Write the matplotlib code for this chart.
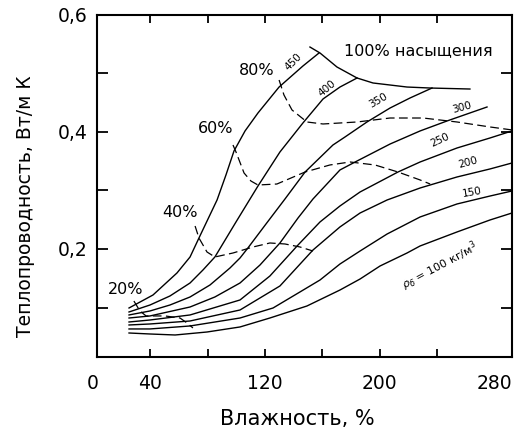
import matplotlib
matplotlib.use("Agg")
import matplotlib.pyplot as plt
from matplotlib.ticker import FixedLocator, FixedFormatter

plt.rcParams['font.family'] = ['DejaVu Sans']

# ---- data ----
x450 = [25.3, 42.0, 58.7, 67.8, 74.0, 86.6, 92.8, 98.4, 106.1, 115.1, 129.8, 146.4, 157.6]
y450 = [0.0992, 0.1214, 0.1590, 0.1863, 0.2187, 0.2836, 0.3263, 0.3673, 0.4015, 0.4322, 0.4765, 0.5124, 0.5346]

x400 = [25.3, 39.9, 53.8, 67.8, 76.8, 85.1, 99.8, 115.1, 130.4, 146.4, 160.4, 172.2, 184.1]
y400 = [0.0924, 0.1043, 0.1197, 0.1419, 0.1641, 0.1863, 0.2461, 0.3075, 0.3656, 0.4151, 0.4561, 0.4765, 0.4919]

x350 = [25.3, 39.9, 53.8, 67.8, 81.7, 95.6, 102.6, 108.1, 120.7, 133.9, 147.9, 167.3, 175.7, 191.0, 207.1, 221.0, 236.3]
y350 = [0.0873, 0.0941, 0.1043, 0.1180, 0.1385, 0.1675, 0.1846, 0.2017, 0.2427, 0.2853, 0.3314, 0.3775, 0.3912, 0.4168, 0.4407, 0.4578, 0.4748]

x300 = [25.3, 39.9, 67.8, 85.1, 102.6, 116.5, 130.4, 143.0, 153.4, 172.2, 184.1, 207.1, 228.0, 246.7, 262.7, 274.6]
y300 = [0.0821, 0.0856, 0.1009, 0.1180, 0.1419, 0.1726, 0.2102, 0.2529, 0.2853, 0.3349, 0.3502, 0.3792, 0.4015, 0.4185, 0.4322, 0.4424]

x250 = [25.3, 39.9, 67.8, 102.6, 123.4, 143.0, 158.3, 172.2, 186.2, 212.6, 228.0, 253.7, 276.7, 292.0]
y250 = [0.0753, 0.0787, 0.0873, 0.1129, 0.1538, 0.2068, 0.2461, 0.2734, 0.2973, 0.3314, 0.3485, 0.3724, 0.3895, 0.4015]

x200 = [25.3, 39.9, 67.8, 102.6, 130.4, 153.4, 172.2, 186.2, 205.0, 228.0, 253.7, 276.7, 292.0]
y200 = [0.0702, 0.0719, 0.0770, 0.0958, 0.1368, 0.1982, 0.2376, 0.2614, 0.2836, 0.3041, 0.3229, 0.3366, 0.3468]

x150 = [25.3, 39.9, 67.8, 102.6, 125.6, 144.3, 158.3, 172.2, 186.2, 205.0, 228.0, 253.7, 276.7, 292.0]
y150 = [0.0634, 0.0634, 0.0685, 0.0821, 0.0992, 0.1265, 0.1470, 0.1743, 0.1965, 0.2255, 0.2546, 0.2768, 0.2904, 0.2990]

x100 = [25.3, 39.9, 57.4, 79.6, 102.6, 123.4, 149.2, 172.2, 186.2, 200.1, 218.9, 228.0, 253.7, 276.7, 292.0]
y100 = [0.0565, 0.0548, 0.0531, 0.0582, 0.0668, 0.0821, 0.1026, 0.1299, 0.1487, 0.1709, 0.1931, 0.2051, 0.2290, 0.2495, 0.2614]

# saturation (100 %) line
x_sat = [151.3, 158.3, 170.1, 184.1, 195.2, 218.9, 235.0, 262.7]
y_sat = [0.5448, 0.5346, 0.5107, 0.4919, 0.4834, 0.4765, 0.4748, 0.4731]

# relative-humidity iso-lines (dashed)
x80 = [129.8, 133.2, 138.8, 149.2, 160.4, 184.1, 207.1, 230.1, 253.7, 276.7, 292.0]
y80 = [0.4885, 0.4629, 0.4373, 0.4168, 0.4134, 0.4168, 0.4236, 0.4236, 0.4168, 0.4083, 0.4032]

x60 = [97.7, 99.8, 105.4, 110.2, 115.1, 128.3, 147.9, 165.2, 179.2, 196.6, 212.6, 228.0, 235.0]
y60 = [0.3775, 0.3656, 0.3297, 0.3160, 0.3092, 0.3109, 0.3314, 0.3434, 0.3485, 0.3434, 0.3314, 0.3178, 0.3109]

x40 = [71.3, 74.0, 79.6, 85.1, 97.7, 111.7, 123.4, 133.9, 144.3, 153.4]
y40 = [0.2392, 0.2187, 0.1948, 0.1863, 0.1931, 0.2034, 0.2102, 0.2085, 0.2034, 0.1965]

x20 = [28.7, 32.9, 37.2, 50.4, 60.8, 65.7, 69.8]
y20 = [0.1111, 0.0941, 0.0856, 0.0856, 0.0821, 0.0736, 0.0651]

density_curves = [(x450, y450), (x400, y400), (x350, y350), (x300, y300),
                  (x250, y250), (x200, y200), (x150, y150), (x100, y100)]
humidity_curves = [(x80, y80), (x60, y60), (x40, y40), (x20, y20)]

density_labels = ["450", "400", "350", "300", "250", "200", "150"]
density_label_pos = [(139.5, 0.519, 45), (163.2, 0.475, 40), (198.7, 0.454, 30),
                     (257.2, 0.442, 15), (241.9, 0.386, 25), (261.4, 0.347, 15),
                     (264.2, 0.297, 10)]
humidity_labels = ["20%", "40%", "60%", "80%"]
humidity_label_pos = [(23.2, 0.1316), (60.8, 0.263), (85.9, 0.405), (114.5, 0.504)]

xtick_marks = [40, 80, 120, 160, 200, 240]
xtick_label_vals = [40, 120, 200, 280]
xtick_label_text = ["40", "120", "200", "280"]
ytick_marks = [0.1, 0.3, 0.5]
ytick_label_vals = [0.2, 0.4, 0.6]
ytick_label_text = ["0,2", "0,4", "0,6"]

# ---- figure ----
fig = plt.figure(figsize=(5.18, 4.29), dpi=100)
ax = fig.add_axes([97/518, (429-357.3)/429, 415/518, 342.6/429])

for xs, ys in density_curves:
    ax.plot(xs, ys, color='black', lw=1.0, solid_joinstyle='round')
ax.plot(x_sat, y_sat, color='black', lw=1.0, solid_joinstyle='round')
for xs, ys in humidity_curves:
    ax.plot(xs, ys, color='black', lw=0.9, dashes=(7, 3.5))

ax.set_xlim(3, 292)
ax.set_ylim(0.015, 0.6)

for s in ax.spines.values():
    s.set_linewidth(1.5)

ax.xaxis.remove_overlapping_locs = False
ax.yaxis.remove_overlapping_locs = False
ax.xaxis.set_major_locator(FixedLocator(xtick_label_vals))
ax.xaxis.set_major_formatter(FixedFormatter(xtick_label_text))
ax.xaxis.set_minor_locator(FixedLocator(xtick_marks))
ax.yaxis.set_major_locator(FixedLocator(ytick_label_vals))
ax.yaxis.set_major_formatter(FixedFormatter(ytick_label_text))
ax.yaxis.set_minor_locator(FixedLocator(ytick_marks))

ax.tick_params(axis='x', which='major', length=0, pad=12, labelsize=13.5)
ax.tick_params(axis='x', which='minor', direction='in', length=6, width=1.3,
               top=True, bottom=True)
ax.tick_params(axis='y', which='both', direction='in', length=8, width=1.3,
               left=True, right=True, pad=7, labelsize=13.5)

ax.text(0, -12*100/72/342.6, "0", transform=ax.get_xaxis_transform(),
        ha='center', va='top', fontsize=13.5, clip_on=False)

ax.set_xlabel("Влажность, %", fontsize=15)
ax.xaxis.set_label_coords(0.482, -0.152)
ax.set_ylabel("Теплопроводность, Вт/м К", fontsize=13.5)
ax.yaxis.set_label_coords(-0.15, 0.44)

for txt, (lx, ly, rot) in zip(density_labels, density_label_pos):
    ax.text(lx, ly, txt, fontsize=7.5, rotation=rot, ha='center', va='center')
for txt, (lx, ly) in zip(humidity_labels, humidity_label_pos):
    ax.text(lx, ly, txt, fontsize=11.5, ha='center', va='center')
ax.text(226.5, 0.538, "100% насыщения", fontsize=11.5, ha='center', va='center')
ax.text(241.9, 0.171, r"$\rho_б$ = 100 кг/м$^3$", fontsize=8, rotation=28,
        ha='center', va='center')

fig.savefig("out.png", dpi=100)
